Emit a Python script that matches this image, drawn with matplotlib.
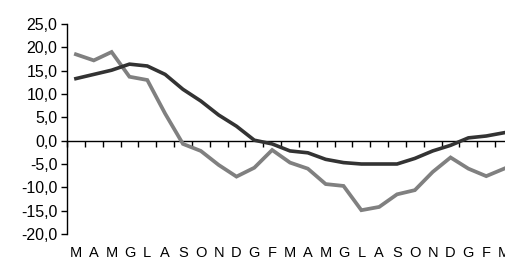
import matplotlib
matplotlib.use("Agg")
import matplotlib.pyplot as plt
import numpy as np

months = ["M", "A", "M", "G", "L", "A", "S", "O", "N", "D", "G", "F",
          "M", "A", "M", "G", "L", "A", "S", "O", "N", "D", "G", "F", "M"]
dark = [13.3, 14.2, 15.1, 16.4, 16.0, 14.2, 11.0, 8.5, 5.5, 3.1, 0.1, -0.7,
        -2.2, -2.6, -4.0, -4.7, -5.0, -5.0, -5.0, -3.8, -2.2, -1.0, 0.6, 1.0, 1.7]
gray = [18.5, 17.2, 19.0, 13.7, 13.0, 5.8, -0.7, -2.2, -5.2, -7.7, -5.8, -2.0,
        -4.7, -6.0, -9.3, -9.7, -14.9, -14.2, -11.5, -10.6, -6.7, -3.6, -6.0, -7.6, -6.0]
yticks = [25, 20, 15, 10, 5, 0, -5, -10, -15, -20]

plt.rcParams['font.family'] = ['Liberation Sans', 'DejaVu Sans']

W, H = 505, 262
fig = plt.figure(figsize=(W / 100, H / 100), dpi=100)
ax = fig.add_axes([67 / W, (H - 234) / H, (513 - 67) / W, (234 - 24) / H])

x = np.arange(len(months))
ax.plot(x, gray, color="#808080", lw=2.7, solid_joinstyle="miter", zorder=3)
ax.plot(x, dark, color="#333333", lw=2.6, solid_joinstyle="miter", zorder=4)

ax.set_xlim(-0.5, len(months) - 0.5)
ax.set_ylim(-20, 25)

ax.spines['top'].set_visible(False)
ax.spines['right'].set_visible(False)
ax.spines['left'].set_linewidth(1.0)
ax.spines['bottom'].set_position(('data', 0))
ax.spines['bottom'].set_linewidth(1.0)

ax.set_yticks(yticks)
ax.set_yticklabels([f"{v:.1f}".replace(".", ",") for v in yticks], fontsize=11.5)
ax.tick_params(axis='y', direction='out', length=4, width=1, pad=3)

ax.set_xticks(np.arange(len(months) + 1) - 0.5)
ax.set_xticklabels([])
ax.tick_params(axis='x', which='major', direction='out', length=4, width=1)
ax.set_xticks(x, minor=True)
ax.set_xticklabels(months, minor=True, fontsize=10.5)
ax.tick_params(axis='x', which='minor', length=0, pad=76)

fig.savefig("out.png", dpi=100)
